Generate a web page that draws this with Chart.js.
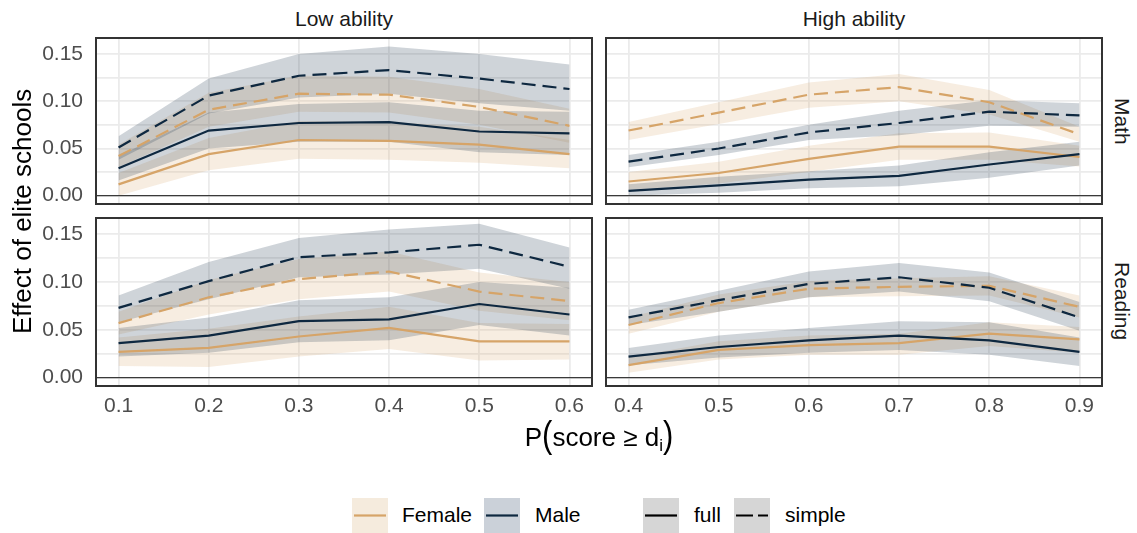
<!DOCTYPE html>
<html>
<head>
<meta charset="utf-8">
<script src="https://cdn.jsdelivr.net/npm/chart.js@4.4.0/dist/chart.umd.min.js"></script>
<style>
    body { margin: 0; background: #fff; }
    #wrap { position: relative; width: 1137px; height: 533px; overflow: hidden;
            font-family: "Liberation Sans", Arial, sans-serif; }
    .cbox { position: absolute; }
    .strip { position: absolute; font-size: 21px; color: #1a1a1a; text-align: center; line-height: 26px; }
    .vstrip { position: absolute; font-size: 21px; color: #1a1a1a; writing-mode: vertical-rl;
              display: flex; align-items: center; justify-content: center; width: 28px; }
    .ytitle { position: absolute; font-size: 26px; color: #000; writing-mode: vertical-rl; transform: rotate(180deg);
              display: flex; align-items: center; justify-content: center; width: 30px; }
    .xtitle { position: absolute; font-size: 26px; color: #000; text-align: center; line-height: 32px; }
    .xtitle .par { font-size: 31px; display: inline-block; transform: scaleY(1.2) translateY(-1px); }
    .xtitle sub { font-size: 17px; vertical-align: -5px; line-height: 0; }
    .key { position: absolute; top: 498px; width: 36px; height: 35px; }
    .ltext { position: absolute; top: 502px; font-size: 21px; line-height: 26px; color: #000; }
</style>
</head>
<body>
<div id="wrap">
    <div class="cbox" style="left:0px;top:36px;width:594px;height:170px"><canvas id="mathLow"></canvas></div>
    <div class="cbox" style="left:604px;top:36px;width:500px;height:170px"><canvas id="mathHigh"></canvas></div>
    <div class="cbox" style="left:0px;top:216px;width:594px;height:210px"><canvas id="readLow"></canvas></div>
    <div class="cbox" style="left:604px;top:216px;width:500px;height:210px"><canvas id="readHigh"></canvas></div>

    <div class="strip" style="left:96px;top:6px;width:496px">Low ability</div>
    <div class="strip" style="left:606px;top:6px;width:496px">High ability</div>
    <div class="vstrip" style="left:1108px;top:38px;height:166px">Math</div>
    <div class="vstrip" style="left:1108px;top:218px;height:166px">Reading</div>
    <div class="ytitle" style="left:8px;top:38px;height:346px">Effect of elite schools</div>
    <div class="xtitle" style="left:96px;top:420px;width:1006px">P<span class="par">(</span>score ≥ d<sub>i</sub><span class="par">)</span></div>

    <div class="key" style="left:352px;background:#f5ebdd">
        <svg width="36" height="35"><line x1="2" y1="17.5" x2="34" y2="17.5" stroke="#d6a468" stroke-width="2.2"/></svg>
    </div>
    <div class="ltext" style="left:402px">Female</div>
    <div class="key" style="left:484px;background:#cbd1d9">
        <svg width="36" height="35"><line x1="2" y1="17.5" x2="34" y2="17.5" stroke="#0e2840" stroke-width="2.2"/></svg>
    </div>
    <div class="ltext" style="left:535px">Male</div>
    <div class="key" style="left:643px;background:#d6d6d6">
        <svg width="36" height="35"><line x1="2" y1="17.5" x2="34" y2="17.5" stroke="#000" stroke-width="2.2"/></svg>
    </div>
    <div class="ltext" style="left:694px">full</div>
    <div class="key" style="left:734px;background:#d6d6d6">
        <svg width="36" height="35"><line x1="2" y1="17.5" x2="34" y2="17.5" stroke="#000" stroke-width="2.2" stroke-dasharray="17 5"/></svg>
    </div>
    <div class="ltext" style="left:785px">simple</div>
</div>

<script>
// x positions and ticks
const lowX = [0.1, 0.2, 0.3, 0.4, 0.5, 0.6];
const highX = [0.4, 0.5, 0.6, 0.7, 0.8, 0.9];
const lowXLabels = ['0.1', '0.2', '0.3', '0.4', '0.5', '0.6'];
const highXLabels = ['0.4', '0.5', '0.6', '0.7', '0.8', '0.9'];
const yTickValues = [0, 0.05, 0.10, 0.15];
const yTickLabels = ['0.00', '0.05', '0.10', '0.15'];
const yMinorValues = [0.025, 0.075, 0.125];

// Math, low ability
const mathLowFemFull     = [0.012, 0.044, 0.059, 0.058, 0.054, 0.044];
const mathLowFemFullLo   = [0.000, 0.027, 0.039, 0.038, 0.035, 0.029];
const mathLowFemFullHi   = [0.024, 0.061, 0.079, 0.078, 0.073, 0.059];
const mathLowFemSimple   = [0.042, 0.091, 0.108, 0.107, 0.094, 0.074];
const mathLowFemSimpleLo = [0.030, 0.073, 0.089, 0.088, 0.075, 0.056];
const mathLowFemSimpleHi = [0.054, 0.109, 0.127, 0.126, 0.113, 0.092];
const mathLowMalFull     = [0.029, 0.069, 0.077, 0.078, 0.068, 0.066];
const mathLowMalFullLo   = [0.016, 0.050, 0.057, 0.057, 0.046, 0.043];
const mathLowMalFullHi   = [0.042, 0.088, 0.097, 0.099, 0.090, 0.089];
const mathLowMalSimple   = [0.051, 0.106, 0.127, 0.133, 0.124, 0.113];
const mathLowMalSimpleLo = [0.038, 0.087, 0.104, 0.108, 0.098, 0.090];
const mathLowMalSimpleHi = [0.063, 0.124, 0.150, 0.158, 0.150, 0.139];

// Math, high ability
const mathHighFemFull     = [0.015, 0.024, 0.039, 0.052, 0.052, 0.041];
const mathHighFemFullLo   = [0.006, 0.013, 0.025, 0.038, 0.038, 0.031];
const mathHighFemFullHi   = [0.025, 0.036, 0.053, 0.066, 0.067, 0.053];
const mathHighFemSimple   = [0.069, 0.088, 0.107, 0.115, 0.099, 0.065];
const mathHighFemSimpleLo = [0.059, 0.076, 0.093, 0.100, 0.086, 0.057];
const mathHighFemSimpleHi = [0.078, 0.099, 0.120, 0.129, 0.112, 0.073];
const mathHighMalFull     = [0.005, 0.011, 0.017, 0.021, 0.033, 0.044];
const mathHighMalFullLo   = [0.000, 0.003, 0.008, 0.010, 0.019, 0.032];
const mathHighMalFullHi   = [0.012, 0.020, 0.026, 0.032, 0.046, 0.057];
const mathHighMalSimple   = [0.036, 0.050, 0.067, 0.077, 0.089, 0.085];
const mathHighMalSimpleLo = [0.030, 0.043, 0.059, 0.064, 0.074, 0.073];
const mathHighMalSimpleHi = [0.043, 0.057, 0.075, 0.090, 0.101, 0.098];

// Reading, low ability
const readLowFemFull     = [0.027, 0.031, 0.043, 0.052, 0.038, 0.038];
const readLowFemFullLo   = [0.012, 0.011, 0.022, 0.030, 0.018, 0.019];
const readLowFemFullHi   = [0.042, 0.051, 0.064, 0.074, 0.057, 0.056];
const readLowFemSimple   = [0.057, 0.084, 0.103, 0.111, 0.090, 0.080];
const readLowFemSimpleLo = [0.045, 0.066, 0.082, 0.090, 0.070, 0.060];
const readLowFemSimpleHi = [0.069, 0.102, 0.124, 0.132, 0.110, 0.100];
const readLowMalFull     = [0.036, 0.044, 0.059, 0.061, 0.077, 0.066];
const readLowMalFullLo   = [0.022, 0.026, 0.037, 0.039, 0.055, 0.044];
const readLowMalFullHi   = [0.052, 0.063, 0.081, 0.084, 0.100, 0.094];
const readLowMalSimple   = [0.073, 0.101, 0.126, 0.131, 0.139, 0.116];
const readLowMalSimpleLo = [0.058, 0.082, 0.105, 0.108, 0.114, 0.093];
const readLowMalSimpleHi = [0.086, 0.121, 0.146, 0.155, 0.161, 0.136];

// Reading, high ability
const readHighFemFull     = [0.013, 0.029, 0.034, 0.036, 0.046, 0.040];
const readHighFemFullLo   = [0.005, 0.019, 0.024, 0.024, 0.033, 0.026];
const readHighFemFullHi   = [0.021, 0.038, 0.044, 0.046, 0.058, 0.053];
const readHighFemSimple   = [0.055, 0.078, 0.093, 0.095, 0.096, 0.074];
const readHighFemSimpleLo = [0.046, 0.069, 0.084, 0.085, 0.086, 0.063];
const readHighFemSimpleHi = [0.063, 0.087, 0.101, 0.104, 0.106, 0.086];
const readHighMalFull     = [0.022, 0.032, 0.039, 0.044, 0.039, 0.027];
const readHighMalFullLo   = [0.013, 0.021, 0.026, 0.029, 0.024, 0.012];
const readHighMalFullHi   = [0.031, 0.044, 0.052, 0.059, 0.058, 0.042];
const readHighMalSimple   = [0.063, 0.081, 0.098, 0.105, 0.094, 0.063];
const readHighMalSimpleLo = [0.055, 0.069, 0.084, 0.090, 0.080, 0.049];
const readHighMalSimpleHi = [0.071, 0.091, 0.111, 0.120, 0.110, 0.079];

const FEMALE = '#d6a468';
const MALE = '#0e2840';
const FEMALE_FILL = 'rgba(214, 164, 104, 0.2)';
const MALE_FILL = 'rgba(14, 40, 64, 0.2)';
const DASH = [14, 7];
const FONT = '"Liberation Sans", Arial, sans-serif';

const Y_MIN = -0.0088;
const Y_MAX = 0.167;

const panelFrame = {
    id: 'panelFrame',
    beforeDatasetsDraw(chart) {
        const { ctx, chartArea, scales } = chart;
        const y0 = scales.y.getPixelForValue(0);
        ctx.save();
        ctx.strokeStyle = '#3a3a3a';
        ctx.lineWidth = 1.2;
        ctx.beginPath();
        ctx.moveTo(chartArea.left, y0);
        ctx.lineTo(chartArea.right, y0);
        ctx.stroke();
        ctx.restore();
    },
    afterDraw(chart) {
        const { ctx, chartArea } = chart;
        ctx.save();
        ctx.strokeStyle = '#333333';
        ctx.lineWidth = 2;
        ctx.strokeRect(chartArea.left, chartArea.top, chartArea.right - chartArea.left, chartArea.bottom - chartArea.top);
        ctx.restore();
    }
};

function pts(xs, ys) {
    return xs.map((x, i) => ({ x: x, y: ys[i] }));
}

function buildDatasets(xs, series) {
    const lines = [];
    const ribbons = [];
    const start = series.length;
    series.forEach((s, i) => {
        lines.push({
            data: pts(xs, s.est),
            borderColor: s.color,
            borderWidth: 2.2,
            borderDash: s.dash ? DASH : [],
            pointRadius: 0,
            fill: false,
            tension: 0
        });
        const upIdx = start + i * 2;
        ribbons.push({
            data: pts(xs, s.hi),
            borderWidth: 0,
            pointRadius: 0,
            backgroundColor: s.fill,
            fill: { target: upIdx + 1 },
            tension: 0
        });
        ribbons.push({
            data: pts(xs, s.lo),
            borderWidth: 0,
            pointRadius: 0,
            fill: false,
            tension: 0
        });
    });
    return lines.concat(ribbons);
}

function createPanel(id, xs, xLabels, xMin, xMax, series, showX, showY) {
    const ctx = document.getElementById(id).getContext('2d');
    return new Chart(ctx, {
        type: 'line',
        data: { datasets: buildDatasets(xs, series) },
        options: {
            responsive: true,
            maintainAspectRatio: false,
            animation: false,
            events: [],
            layout: { padding: { top: 2, right: 2, bottom: showX ? 0 : 2, left: showY ? 0 : 2 } },
            plugins: {
                legend: { display: false },
                tooltip: { enabled: false },
                filler: { drawTime: 'beforeDatasetsDraw' }
            },
            scales: {
                x: {
                    type: 'linear',
                    min: xMin,
                    max: xMax,
                    border: { display: false },
                    grid: { color: '#ebebeb', lineWidth: 1.8, drawTicks: false },
                    afterBuildTicks: (axis) => { axis.ticks = xs.map(v => ({ value: v })); },
                    afterFit: (axis) => {
                        axis.height = showX ? 40 : 0;
                        axis.paddingLeft = 0;
                        axis.paddingRight = 0;
                    },
                    ticks: {
                        display: showX,
                        autoSkip: false,
                        maxRotation: 0,
                        padding: 8,
                        color: '#4d4d4d',
                        font: { family: FONT, size: 21 },
                        callback: (v) => xLabels[xs.indexOf(v)]
                    }
                },
                y: {
                    type: 'linear',
                    min: Y_MIN,
                    max: Y_MAX,
                    border: { display: false },
                    grid: { color: '#ebebeb', lineWidth: 1.8, drawTicks: false },
                    afterBuildTicks: (axis) => {
                        axis.ticks = yTickValues.concat(yMinorValues).map(v => ({ value: v }));
                    },
                    afterFit: (axis) => {
                        axis.width = showY ? 96 : 0;
                        axis.paddingTop = 0;
                        axis.paddingBottom = 0;
                    },
                    ticks: {
                        display: showY,
                        autoSkip: false,
                        padding: 13,
                        color: '#4d4d4d',
                        font: { family: FONT, size: 21 },
                        callback: (v) => {
                            const k = yTickValues.indexOf(v);
                            return k >= 0 ? yTickLabels[k] : '';
                        }
                    }
                }
            }
        },
        plugins: [panelFrame]
    });
}

function seriesSet(ff, ffLo, ffHi, fs, fsLo, fsHi, mf, mfLo, mfHi, ms, msLo, msHi) {
    // male first so it sits on top
    return [
        { est: ms, lo: msLo, hi: msHi, color: MALE, fill: MALE_FILL, dash: true },
        { est: mf, lo: mfLo, hi: mfHi, color: MALE, fill: MALE_FILL, dash: false },
        { est: fs, lo: fsLo, hi: fsHi, color: FEMALE, fill: FEMALE_FILL, dash: true },
        { est: ff, lo: ffLo, hi: ffHi, color: FEMALE, fill: FEMALE_FILL, dash: false }
    ];
}

createPanel('mathLow', lowX, lowXLabels, 0.075, 0.625,
    seriesSet(mathLowFemFull, mathLowFemFullLo, mathLowFemFullHi,
              mathLowFemSimple, mathLowFemSimpleLo, mathLowFemSimpleHi,
              mathLowMalFull, mathLowMalFullLo, mathLowMalFullHi,
              mathLowMalSimple, mathLowMalSimpleLo, mathLowMalSimpleHi), false, true);

createPanel('mathHigh', highX, highXLabels, 0.375, 0.925,
    seriesSet(mathHighFemFull, mathHighFemFullLo, mathHighFemFullHi,
              mathHighFemSimple, mathHighFemSimpleLo, mathHighFemSimpleHi,
              mathHighMalFull, mathHighMalFullLo, mathHighMalFullHi,
              mathHighMalSimple, mathHighMalSimpleLo, mathHighMalSimpleHi), false, false);

createPanel('readLow', lowX, lowXLabels, 0.075, 0.625,
    seriesSet(readLowFemFull, readLowFemFullLo, readLowFemFullHi,
              readLowFemSimple, readLowFemSimpleLo, readLowFemSimpleHi,
              readLowMalFull, readLowMalFullLo, readLowMalFullHi,
              readLowMalSimple, readLowMalSimpleLo, readLowMalSimpleHi), true, true);

createPanel('readHigh', highX, highXLabels, 0.375, 0.925,
    seriesSet(readHighFemFull, readHighFemFullLo, readHighFemFullHi,
              readHighFemSimple, readHighFemSimpleLo, readHighFemSimpleHi,
              readHighMalFull, readHighMalFullLo, readHighMalFullHi,
              readHighMalSimple, readHighMalSimpleLo, readHighMalSimpleHi), true, false);
</script>
</body>
</html>
